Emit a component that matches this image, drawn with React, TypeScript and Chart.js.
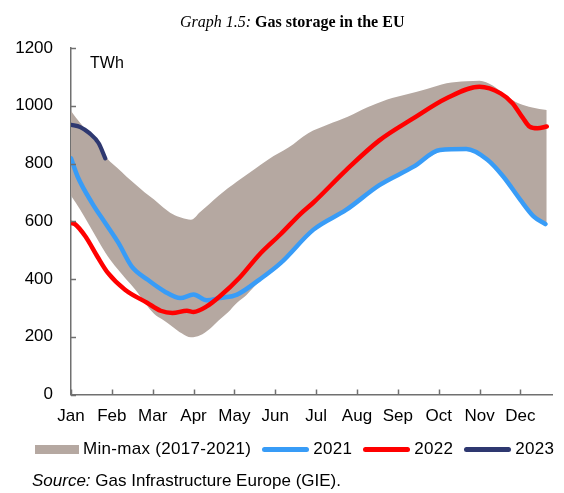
import React, { useEffect, useRef } from "react";
import { Chart, registerables } from "chart.js";

Chart.register(...registerables);

if (typeof document !== "undefined") {
  document.body.style.marginBottom = "0px";
}

// ---- data (x = day of year, y = TWh) ----
const monthLabels = ["Jan", "Feb", "Mar", "Apr", "May", "Jun", "Jul", "Aug", "Sep", "Oct", "Nov", "Dec"];
const monthTickDays = [0, 31, 62, 93, 124, 155, 186, 217, 248, 279, 310, 341];
const yTickValues = [0, 200, 400, 600, 800, 1000, 1200];

const bandDays = [0, 7, 14, 21, 28, 35, 42, 49, 56, 63, 70, 77, 84, 91, 98, 105, 112, 119, 126, 133, 140, 150, 165, 180, 195, 210, 225, 240, 255, 270, 285, 300, 310, 320, 330, 340, 350, 361];
const bandMax = [982, 940, 902, 860, 815, 785, 755, 727, 700, 675, 648, 625, 612, 605, 632, 660, 688, 714, 738, 760, 783, 815, 855, 905, 935, 962, 995, 1022, 1040, 1058, 1078, 1085, 1087, 1070, 1035, 1008, 994, 985];
const bandMin = [688, 640, 585, 530, 478, 436, 398, 362, 318, 280, 258, 235, 212, 198, 205, 226, 256, 284, 318, 344, 378, 420, 490, 556, 600, 640, 692, 737, 778, 818, 848, 850, 830, 800, 745, 678, 620, 588];

const days2021 = [0, 5, 16, 26, 36, 46, 58, 71, 83, 93, 103, 113, 126, 143, 159, 184, 209, 234, 260, 280, 300, 316, 328, 341, 351, 360];
const vals2021 = [818, 755, 663, 594, 525, 444, 398, 357, 334, 346, 326, 334, 346, 398, 455, 571, 640, 725, 789, 847, 850, 813, 755, 674, 617, 590];

const days2022 = [0, 3, 11, 20, 28, 41, 58, 68, 77, 88, 93, 103, 113, 128, 143, 159, 174, 184, 209, 234, 260, 285, 310, 326, 335, 343, 348, 354, 361];
const vals2022 = [594, 590, 547, 478, 421, 363, 317, 290, 282, 290, 286, 305, 340, 405, 485, 555, 625, 665, 778, 880, 957, 1026, 1066, 1043, 1009, 957, 928, 922, 928];

const days2023 = [0, 7, 14, 21, 26];
const vals2023 = [934, 926, 905, 870, 818];

// ---- styles ----
const FONT = '"Liberation Sans", Arial, sans-serif';
const SERIF = '"Liberation Serif", "Times New Roman", serif';
const BAND = "#b5a8a1";
const BLUE = "#389cf7";
const RED = "#ff0000";
const NAVY = "#2e3870";
const AXIS = "#707070";

const pts = (xs: number[], ys: number[]) => xs.map((x, i) => ({ x, y: ys[i] }));

const innerTicks = {
  id: "innerTicks",
  afterDatasetsDraw(chart: any) {
    const { ctx, chartArea, scales } = chart;
    ctx.save();
    ctx.strokeStyle = AXIS;
    ctx.lineWidth = 1.5;
    scales.y.ticks.forEach((t: any) => {
      const y = Math.round(scales.y.getPixelForValue(t.value)) + 0.5;
      ctx.beginPath();
      ctx.moveTo(chartArea.left, y);
      ctx.lineTo(chartArea.left + 5, y);
      ctx.stroke();
    });
    scales.x.ticks.forEach((t: any) => {
      const x = Math.round(scales.x.getPixelForValue(t.value)) + 0.5;
      ctx.beginPath();
      ctx.moveTo(x, chartArea.bottom);
      ctx.lineTo(x, chartArea.bottom - 5);
      ctx.stroke();
    });
    ctx.restore();
  },
};

function ChartCanvas() {
  const ref = useRef<HTMLCanvasElement | null>(null);
  useEffect(() => {
    if (!ref.current) return;
    const lineDs = (label: string, data: any[], color: string, order: number, width = 4.5) => ({
      label,
      data,
      borderColor: color,
      backgroundColor: color,
      borderWidth: width,
      pointRadius: 0,
      fill: false,
      cubicInterpolationMode: "monotone" as const,
      borderCapStyle: "round" as const,
      borderJoinStyle: "round" as const,
      order,
    });
    const chart = new Chart(ref.current, {
      type: "line",
      data: {
        datasets: [
          {
            label: "Min-max (2017-2021)",
            data: pts(bandDays, bandMax),
            borderWidth: 0,
            borderColor: BAND,
            backgroundColor: BAND,
            pointRadius: 0,
            fill: "+1",
            cubicInterpolationMode: "monotone",
            order: 10,
          },
          {
            label: "min",
            data: pts(bandDays, bandMin),
            borderWidth: 0,
            borderColor: BAND,
            backgroundColor: BAND,
            pointRadius: 0,
            fill: false,
            cubicInterpolationMode: "monotone",
            order: 11,
          },
          lineDs("2021", pts(days2021, vals2021), BLUE, 3),
          lineDs("2022", pts(days2022, vals2022), RED, 2),
          lineDs("2023", pts(days2023, vals2023), NAVY, 1, 4.2),
        ],
      },
      options: {
        responsive: false,
        animation: false,
        events: [],
        layout: { padding: { left: 0, top: 40, right: 4, bottom: 50.5 } },
        plugins: {
          legend: { display: false },
          tooltip: { enabled: false },
          title: { display: false },
        },
        scales: {
          x: {
            type: "linear",
            min: 0,
            max: 365,
            grid: { display: false, drawTicks: false },
            border: { display: true, color: AXIS, width: 1.5 },
            afterBuildTicks: (s: any) => {
              s.ticks = monthTickDays.map((v) => ({ value: v }));
            },
            afterFit: (s: any) => {
              s.height = 40;
            },
            ticks: {
              autoSkip: false,
              maxRotation: 0,
              padding: 12,
              color: "#000",
              font: { family: FONT, size: 17 },
              callback: (_v: any, i: number) => monthLabels[i],
            },
          },
          y: {
            type: "linear",
            min: 0,
            max: 1200,
            grid: { display: false, drawTicks: false },
            border: { display: true, color: AXIS, width: 1.5 },
            afterBuildTicks: (s: any) => {
              s.ticks = yTickValues.map((v) => ({ value: v }));
            },
            afterFit: (s: any) => {
              s.width = 63;
            },
            ticks: {
              padding: 18,
              color: "#000",
              font: { family: FONT, size: 17 },
              callback: (v: any) => String(v),
            },
          },
        },
      },
      plugins: [innerTicks],
    });
    return () => chart.destroy();
  }, []);
  return <canvas ref={ref} width={548} height={477} style={{ display: "block" }} />;
}

const legendItems = [
  { label: "Min-max (2017-2021)", color: BAND, kind: "box" },
  { label: "2021", color: BLUE, kind: "line" },
  { label: "2022", color: RED, kind: "line" },
  { label: "2023", color: NAVY, kind: "line" },
];

export default function App() {
  return (
    <div style={{ position: "relative", width: 548, height: 485 }}>
      <ChartCanvas />
      <div
        style={{
          position: "absolute",
          left: 172,
          top: 4,
          height: 20,
          lineHeight: "20px",
          fontFamily: SERIF,
          fontSize: 16,
          whiteSpace: "nowrap",
          color: "#000",
        }}
      >
        <i>Graph 1.5:</i> <b>Gas storage in the EU</b>
      </div>
      <div
        style={{
          position: "absolute",
          left: 82,
          top: 45,
          lineHeight: "20px",
          fontFamily: FONT,
          fontSize: 16,
          color: "#000",
        }}
      >
        TWh
      </div>
      <div
        style={{
          position: "absolute",
          left: 27,
          top: 431,
          height: 20,
          display: "flex",
          alignItems: "center",
          fontFamily: FONT,
          fontSize: 17,
          letterSpacing: "0.3px",
          lineHeight: "20px",
          whiteSpace: "nowrap",
          color: "#000",
        }}
      >
        {legendItems.map((it, i) => (
          <div key={it.label} style={{ display: "flex", alignItems: "center", marginLeft: i === 0 ? 0 : 11 }}>
            {it.kind === "box" ? (
              <div style={{ width: 44, height: 9, background: it.color }} />
            ) : (
              <div style={{ width: 47, height: 5, borderRadius: 3, background: it.color }} />
            )}
            <span style={{ marginLeft: 4 }}>{it.label}</span>
          </div>
        ))}
      </div>
      <div
        style={{
          position: "absolute",
          left: 24,
          top: 463,
          lineHeight: "20px",
          fontFamily: FONT,
          fontSize: 17,
          whiteSpace: "nowrap",
          color: "#000",
        }}
      >
        <i>Source:</i> Gas Infrastructure Europe (GIE).
      </div>
    </div>
  );
}
